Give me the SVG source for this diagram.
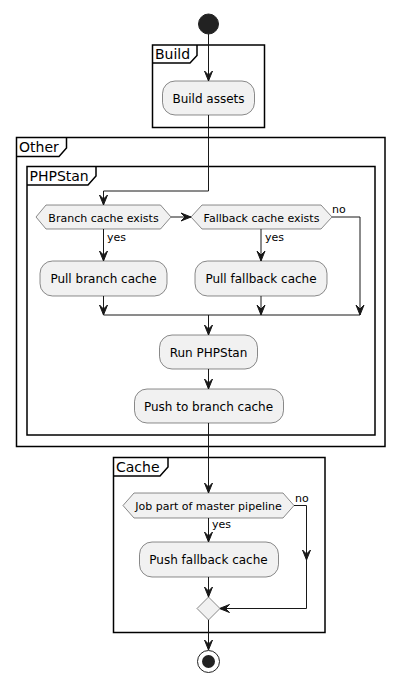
<svg xmlns="http://www.w3.org/2000/svg" width="404" height="693" viewBox="0 0 404 693">
<style>
.part{fill:none;stroke:#000;stroke-width:1.5}
.ptitle{font-family:"DejaVu Sans",sans-serif;font-size:14px;fill:#000}
.act{fill:#F1F1F1;stroke:#181818;stroke-width:0.5}
.atext{font-family:"DejaVu Sans",sans-serif;font-size:12px;fill:#000;text-anchor:middle}
.htext{font-family:"DejaVu Sans",sans-serif;font-size:11px;fill:#000;text-anchor:middle}
.lbl{font-family:"DejaVu Sans",sans-serif;font-size:11px;fill:#000}
.ln{fill:none;stroke:#181818;stroke-width:1}
.ah{fill:#181818;stroke:#181818;stroke-width:1}
</style>
<defs>
<polygon id="ad" points="-4,-10 0,0 4,-10 0,-6"/>
<polygon id="ar" points="-10,-4 0,0 -10,4 -6,0"/>
<polygon id="al" points="10,-4 0,0 10,4 6,0"/>
</defs>
<rect width="404" height="693" fill="#fff"/>
<g id="partitions">
<g id="p-build">
<rect class="part" x="152.5" y="45" width="112" height="82.5"/>
<path class="part" d="M152.5,63 L190,63 L197,55.5 L197,45"/>
<text class="ptitle" x="155" y="59">Build</text>
</g>
<g id="p-other">
<rect class="part" x="16.5" y="137.5" width="368.5" height="309"/>
<path class="part" d="M16.5,156.5 L59,156.5 L66.5,148 L66.5,137.5"/>
<text class="ptitle" x="19" y="152">Other</text>
</g>
<g id="p-phpstan">
<rect class="part" x="27" y="166.5" width="348" height="268.5"/>
<path class="part" d="M27,185 L88,185 L96,176 L96,166.5"/>
<text class="ptitle" x="29.5" y="181">PHPStan</text>
</g>
<g id="p-cache">
<rect class="part" x="113.5" y="457.5" width="211.5" height="175"/>
<path class="part" d="M113.5,476 L160,476 L168,467 L168,457.5"/>
<text class="ptitle" x="116" y="472">Cache</text>
</g>
</g>
<g id="connectors">
<line class="ln" x1="208.5" y1="34" x2="208.5" y2="81"/>
<use href="#ad" class="ah" x="208.5" y="81"/>
<path class="ln" d="M208.5,115 L208.5,191 L103.5,191 L103.5,205"/>
<use href="#ad" class="ah" x="103.5" y="205"/>
<line class="ln" x1="171" y1="217" x2="191" y2="217"/>
<use href="#ar" class="ah" x="191" y="217"/>
<line class="ln" x1="103.5" y1="229" x2="103.5" y2="261"/>
<use href="#ad" class="ah" x="103.5" y="261"/>
<text class="lbl" x="107" y="241">yes</text>
<line class="ln" x1="261" y1="229" x2="261" y2="261"/>
<use href="#ad" class="ah" x="261" y="261"/>
<text class="lbl" x="265" y="241">yes</text>
<path class="ln" d="M332,217 L360,217 L360,315"/>
<use href="#ad" class="ah" x="360" y="315"/>
<text class="lbl" x="332" y="213">no</text>
<line class="ln" x1="103.5" y1="296" x2="103.5" y2="315"/>
<use href="#ad" class="ah" x="103.5" y="315"/>
<line class="ln" x1="261" y1="296" x2="261" y2="315"/>
<use href="#ad" class="ah" x="261" y="315"/>
<line class="ln" x1="103.5" y1="315" x2="360" y2="315"/>
<line class="ln" x1="208.5" y1="315" x2="208.5" y2="335"/>
<use href="#ad" class="ah" x="208.5" y="335"/>
<line class="ln" x1="208.5" y1="369" x2="208.5" y2="389"/>
<use href="#ad" class="ah" x="208.5" y="389"/>
<line class="ln" x1="208.5" y1="423" x2="208.5" y2="493"/>
<use href="#ad" class="ah" x="208.5" y="493"/>
<line class="ln" x1="208.5" y1="518" x2="208.5" y2="542"/>
<use href="#ad" class="ah" x="208.5" y="542"/>
<text class="lbl" x="212" y="528">yes</text>
<path class="ln" d="M294,505.5 L306.5,505.5 L306.5,608.5 L219.5,608.5"/>
<use href="#ad" class="ah" x="306.5" y="560"/>
<use href="#al" class="ah" x="219.5" y="608.5"/>
<text class="lbl" x="295" y="502">no</text>
<line class="ln" x1="208.5" y1="577" x2="208.5" y2="597"/>
<use href="#ad" class="ah" x="208.5" y="597"/>
<line class="ln" x1="208.5" y1="620" x2="208.5" y2="650"/>
<use href="#ad" class="ah" x="208.5" y="650"/>
</g>
<g id="start"><circle cx="208.5" cy="24" r="10" fill="#222" stroke="#222"/></g>
<g id="build-assets">
<rect class="act" x="162.5" y="81" width="92" height="34" rx="12.5"/>
<text class="atext" x="208.5" y="102.5">Build assets</text>
</g>
<g id="branch-cache-exists">
<polygon class="act" points="36,217 46,205 160.5,205 171,217 160.5,229 46,229"/>
<text class="htext" x="103.5" y="221.5">Branch cache exists</text>
</g>
<g id="fallback-cache-exists">
<polygon class="act" points="191,217 202,205 321,205 332,217 321,229 202,229"/>
<text class="htext" x="261.5" y="221.5">Fallback cache exists</text>
</g>
<g id="pull-branch-cache">
<rect class="act" x="40" y="261" width="127" height="35" rx="12.5"/>
<text class="atext" x="103.5" y="283">Pull branch cache</text>
</g>
<g id="pull-fallback-cache">
<rect class="act" x="195" y="261" width="132" height="35" rx="12.5"/>
<text class="atext" x="261" y="283">Pull fallback cache</text>
</g>
<g id="run-phpstan">
<rect class="act" x="159.5" y="335" width="98" height="34" rx="12.5"/>
<text class="atext" x="208.5" y="357">Run PHPStan</text>
</g>
<g id="push-branch-cache">
<rect class="act" x="134.5" y="389" width="149" height="34" rx="12.5"/>
<text class="atext" x="208.5" y="411">Push to branch cache</text>
</g>
<g id="job-master">
<polygon class="act" points="123,505.5 134,493 283,493 294,505.5 283,518 134,518"/>
<text class="htext" x="208.5" y="510">Job part of master pipeline</text>
</g>
<g id="push-fallback-cache">
<rect class="act" x="139.5" y="542" width="139" height="35" rx="12.5"/>
<text class="atext" x="208.5" y="564">Push fallback cache</text>
</g>
<g id="merge">
<polygon class="act" points="208.5,597 220,608.5 208.5,620 197,608.5"/>
</g>
<g id="stop">
<circle cx="208.5" cy="661.5" r="11" fill="none" stroke="#222" stroke-width="1"/>
<circle cx="208.5" cy="661.5" r="6.5" fill="#222"/>
</g>
</svg>
